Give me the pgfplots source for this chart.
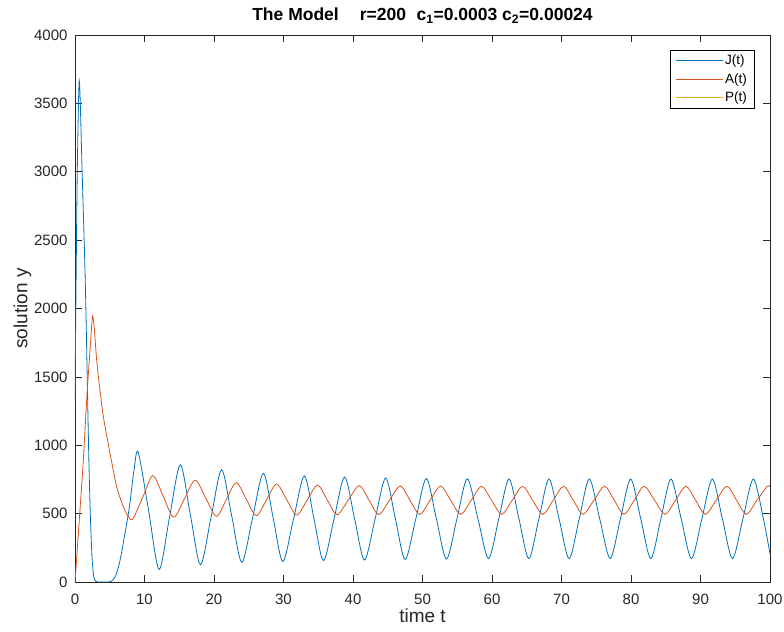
\documentclass[border=0pt]{standalone}
\usepackage{fontspec}
\setmainfont{Liberation Sans}
\usepackage{pgfplots}
\pgfplotsset{compat=1.18}
\definecolor{mJ}{rgb}{0,0.447,0.741}
\definecolor{mA}{rgb}{0.85,0.325,0.098}
\definecolor{mP}{rgb}{0.929,0.694,0.125}
\definecolor{axgray}{rgb}{0.15,0.15,0.15}
\begin{document}
\begin{tikzpicture}
\path[use as bounding box] (-75bp,-50bp) rectangle (709bp,582bp);
\begin{axis}[
  scale only axis, width=695bp, height=547bp,
  xmin=0, xmax=100, ymin=0, ymax=4000,
  xtick={0,10,...,100}, ytick={0,500,...,4000},
  tick align=inside, major tick length=7bp,
  axis line style={axgray, line width=0.6pt},
  every tick/.style={axgray, line width=0.6pt},
  tick label style={font=\fontsize{15bp}{17bp}\selectfont, text=axgray},
  xticklabel style={yshift=-9bp},
  yticklabel style={xshift=-4bp},
  /pgf/number format/assume math mode=true,
  /pgf/number format/1000 sep={},
  scaled y ticks=false,
  xlabel={time t}, ylabel={solution y},
  label style={font=\fontsize{19bp}{21bp}\selectfont, text=axgray},
  xlabel style={yshift=3bp},
  ylabel style={yshift=-4bp},
  title={The Model\hspace{1.2em}r=200\hspace{0.6em}c\textsubscript{1}=0.0003 c\textsubscript{2}=0.00024},
  title style={font=\bfseries\fontsize{17.5bp}{19bp}\selectfont, yshift=2bp},
  legend style={at={(1,1)}, anchor=north east, xshift=-16bp, yshift=-15bp,
    font=\fontsize{13.5bp}{15bp}\selectfont,
    row sep=3bp, inner xsep=5bp, inner ysep=3bp},
  legend cell align=left,
  legend image code/.code={\draw[#1] plot coordinates {(0bp,0bp) (23.5bp,0bp) (47bp,0bp)};},
  every axis plot/.append style={line width=0.8pt},
]
\addplot[color=mJ, smooth] coordinates {
(0,1321) (0.1,1900) (0.3,2900) (0.5,3500) (0.62,3665) (0.75,3520) (1.0,3050) (1.5,2150)
(1.95,1000) (2.2,500) (2.45,180) (2.7,40) (3.0,5) (3.5,0) (4.5,0) (5.2,5) (5.8,40)
(6.4,140) (7.0,300) (7.8,540) (8.5,820) (9.1,948)
(10.6,520) (12.1,92) (13.6,474) (15.15,857) (16.6,491) (18.05,126) (19.575,473)
(21.1,820) (22.55,482) (24.0,144) (25.55,469) (27.1,795) (28.5,472) (29.9,150)
(31.45,463) (33.0,776) (34.375,466) (35.75,156) (37.275,462) (38.8,768) (40.225,464)
(41.65,160) (43.175,460) (44.7,761) (46.1,462) (47.5,164) (49.025,460) (50.55,757)
(52.0,462) (53.45,168) (54.95,461) (56.45,755) (57.975,463) (59.5,171) (60.975,462)
(62.45,753) (63.875,462) (65.3,171) (66.75,462) (68.2,753) (69.65,462) (71.1,171)
(72.55,462) (74.0,753) (75.5,462) (77.0,171) (78.475,462) (79.95,753) (81.4,462)
(82.85,171) (84.3,462) (85.75,753) (87.225,462) (88.7,171) (90.2,462) (91.7,753)
(93.15,462) (94.6,171) (96.1,462) (97.6,753) (99.05,462) (100,205)
};
\addlegendentry{J(t)}
\addplot[color=mA, smooth] coordinates {
(0,0) (0.6,440) (1.2,892) (1.68,1331) (2.16,1697) (2.4,1870) (2.54,1945) (2.75,1870)
(3.12,1623) (3.6,1400) (4.08,1209) (5.04,941) (6.0,697) (6.95,551) (7.6,485) (8.3,460)
(9.75,619) (11.2,778) (12.7,626) (14.2,474) (15.75,609) (17.3,745) (18.825,612)
(20.35,480) (21.775,603) (23.2,726) (24.65,605) (26.1,485) (27.55,601) (29.0,717)
(30.45,603) (31.9,490) (33.4,599) (34.9,709) (36.3,600) (37.7,492) (39.3,598)
(40.9,705) (42.3,599) (43.7,493) (45.25,598) (46.8,703) (48.2,598) (49.6,494)
(51.1,598) (52.6,702) (54.05,598) (55.5,495) (57.0,597) (58.5,700) (59.95,597)
(61.4,495) (62.9,597) (64.4,700) (65.85,597) (67.3,495) (68.8,597) (70.3,700)
(71.7,597) (73.1,495) (74.65,597) (76.2,700) (77.6,597) (79.0,495) (80.45,597)
(81.9,700) (83.4,597) (84.9,495) (86.4,597) (87.9,700) (89.3,597) (90.7,495)
(92.25,597) (93.8,700) (95.2,597) (96.6,495) (98.1,597) (99.6,700) (100,698)
};
\addlegendentry{A(t)}
\addplot[color=mP] coordinates {(0,0) (25,0) (50,0) (75,0) (100,0)};
\addlegendentry{P(t)}
\end{axis}
\end{tikzpicture}
\end{document}
